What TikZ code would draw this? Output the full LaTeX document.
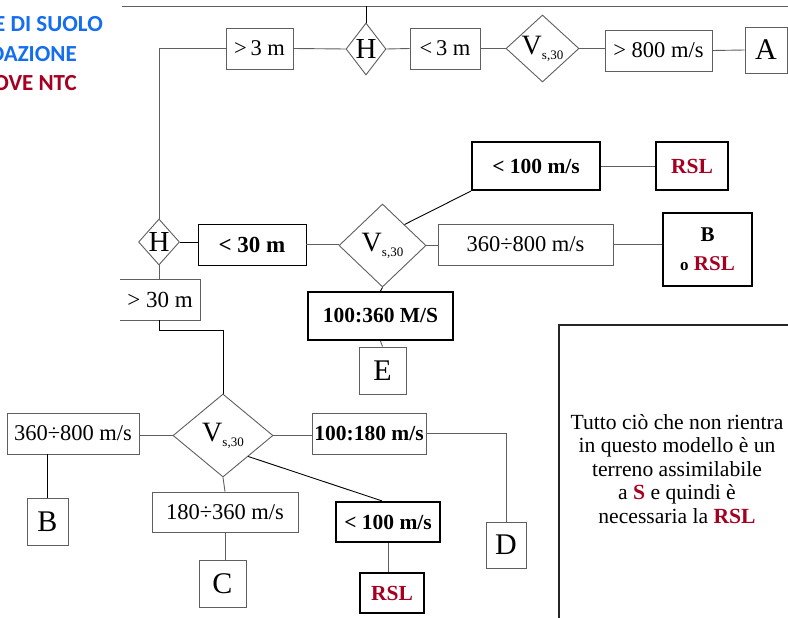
\documentclass[tikz,border=0pt]{standalone}
\usepackage{fontspec}
\setmainfont{Liberation Serif}
\newfontfamily\calfont{Carlito}
\usetikzlibrary{shapes.geometric}
\definecolor{rslred}{RGB}{165,0,33}
\definecolor{ublue}{RGB}{20,110,240}
\definecolor{lgray}{RGB}{95,95,95}
\newcommand{\fs}[1]{\fontsize{#1}{#1}\selectfont}
\newcommand{\Vs}{{\fs{28}V}\raisebox{-5pt}{\fs{13}s,30}}
\newcommand{\rsl}{\textcolor{rslred}{RSL}}
\begin{document}
\begin{tikzpicture}[x=1pt,y=-1pt,
  thin/.style={draw=lgray, line width=0.9pt, inner sep=0pt, font=\fs{22.5}},
  thick/.style={draw=black, line width=2.2pt, inner sep=0pt, font=\bfseries\fs{21.5}},
  letter/.style={thin, font=\fs{30}},
  dia/.style={diamond, draw=lgray, line width=0.9pt, inner sep=0pt},
  conn/.style={draw=lgray, line width=0.9pt},
  dconn/.style={draw=black, line width=0.9pt},
  title/.style={inner sep=0pt, font=\calfont\bfseries\fs{23}}]
\useasboundingbox (0,0) rectangle (788,618);
\fill[white] (0,0) rectangle (788,618);

% title fragments
\node[title, text=ublue, anchor=base east] (t1) at (103,32) {E DI SUOLO};
\node[title, text=ublue, anchor=base east] (t2) at (77,62) {DAZIONE};
\node[title, text=rslred, anchor=base east] (t3) at (77,91) {OVE NTC};

% top row
\coordinate (tl) at (122,6);
\coordinate (tr) at (790,6);
\node[thin, minimum width=67, minimum height=41] (gt3) at (259.5,48.5) {>\,3 m};
\node[dia, minimum width=40, minimum height=52, font=\fs{29}] (H1) at (366,49) {H};
\node[thin, minimum width=70, minimum height=41] (lt3) at (445,48.5) {<\,3 m};
\node[dia, minimum width=73, minimum height=67] (V1) at (542.5,48.5) {\Vs};
\node[thin, minimum width=107, minimum height=41] (gt800) at (658.5,50.5) {> 800 m/s};
\node[letter, minimum width=42, minimum height=46] (A) at (766,50) {A};

% middle row
\node[dia, minimum width=41, minimum height=46, font=\fs{29}] (H2) at (159,242) {H};
\node[thin, draw=black, minimum width=108, minimum height=41, font=\bfseries\fs{23}] (lt30) at (252,244.5) {< 30 m};
\node[dia, minimum width=87, minimum height=83] (V2) at (382.5,245.5) {\Vs};
\node[thick, minimum width=128, minimum height=48] (lt100a) at (536,166) {< 100 m/s};
\node[thick, minimum width=72, minimum height=48] (RSLa) at (692,166) {\rsl};
\node[thin, minimum width=175, minimum height=41] (r360a) at (525.5,244.5) {360÷800 m/s};
\node[thick, minimum width=89, minimum height=73, align=center, font=\bfseries\fontsize{21}{29}\selectfont] (BoRSL) at (707.5,249.5) {B\\{\fs{17}o} \rsl};
\node[thick, minimum width=145, minimum height=48] (m100360) at (380.5,316) {100:360 M/S};
\node[letter, minimum width=47, minimum height=47] (E) at (382.5,370.5) {E};
\node[inner sep=0pt, minimum width=80, minimum height=40, font=\fs{23}] (gt30) at (160,300) {> 30 m};
\draw[conn] (gt30.north west) -- (gt30.north east) -- (gt30.south east) -- (gt30.south west);

% bottom row
\node[dia, minimum width=100, minimum height=83] (V3) at (223,435.5) {\Vs};
\node[thin, minimum width=132, minimum height=41] (r360b) at (73,433.5) {360÷800 m/s};
\node[letter, minimum width=41, minimum height=47] (B) at (47.5,521.5) {B};
\node[thin, minimum width=146, minimum height=40] (r180) at (225,512) {180÷360 m/s};
\node[letter, minimum width=47, minimum height=47] (C) at (222.5,583.5) {C};
\node[thin, minimum width=114, minimum height=41, font=\bfseries\fs{21.5}] (m100180) at (369,433.5) {100:180 m/s};
\node[letter, minimum width=40, minimum height=46] (D) at (506,545) {D};
\node[thick, minimum width=104, minimum height=40] (lt100b) at (388,522) {< 100 m/s};
\node[thick, minimum width=64, minimum height=40] (RSLb) at (392,593) {\rsl};

% connectors top
\draw[conn] (tl) -- (tr);
\draw[dconn] (H1.north) -- (H1.north |- tl);
\draw[conn] (gt3.west) -| (H2.north);
\draw[conn] (gt3.east) -- (H1.west);
\draw[conn] (H1.east) -- (lt3.west);
\draw[conn] (lt3.east) -- (V1.west);
\draw[conn] (V1.east) -- (gt800.west |- V1.east);
\draw[conn] (gt800.east) -- (A.west);

% connectors middle
\draw[dconn] (H2.east) -- (lt30.west |- H2.east);
\draw[conn] (lt30.east) -- (V2.west |- lt30.east);
\draw[dconn] (V2.north east) -- (lt100a.south west);
\draw[conn] (lt100a.east) -- (RSLa.west);
\draw[conn] (V2.east) -- (r360a.west |- V2.east);
\draw[conn] (r360a.east) -- (BoRSL.west |- r360a.east);
\draw[dconn] (V2.south) -- (m100360.north);
\draw[conn] (m100360.south) -- (E.north);
\draw[conn] (H2.south) -- (H2.south |- gt30.north);
\coordinate (k1) at (159,330);
\draw[dconn] (k1 |- gt30.south) -- (k1) -| (V3.north);

% connectors bottom
\draw[conn] (V3.west) -- (r360b.east |- V3.west);
\draw[dconn] (B.north) -- (B.north |- r360b.south);
\draw[conn] (V3.south) -- (r180.north);
\draw[conn] (r180.south) -- (r180.south |- C.north);
\draw[conn] (V3.east) -- (m100180.west |- V3.east);
\draw[conn] (m100180.east) -| (D.north);
\draw[dconn] (V3.south east) -- ([xshift=-6pt]lt100b.north);
\draw[conn] (lt100b.south) -- (lt100b.south |- RSLb.north);

% note box
\coordinate (nb1) at (559,620);
\coordinate (nb2) at (559,325);
\coordinate (nb3) at (790,325);
\draw[line width=1.3pt, black!85] (nb1) -- (nb2) -- (nb3);
\node[inner sep=0pt, align=center, font=\fontsize{21.6}{23.5}\selectfont] (note) at (677,469)
 {Tutto ciò che non rientra\\in questo modello è un\\terreno assimilabile\\a \textcolor{rslred}{\textbf{S}} e quindi è\\necessaria la \textcolor{rslred}{\textbf{RSL}}};
\end{tikzpicture}
\end{document}
